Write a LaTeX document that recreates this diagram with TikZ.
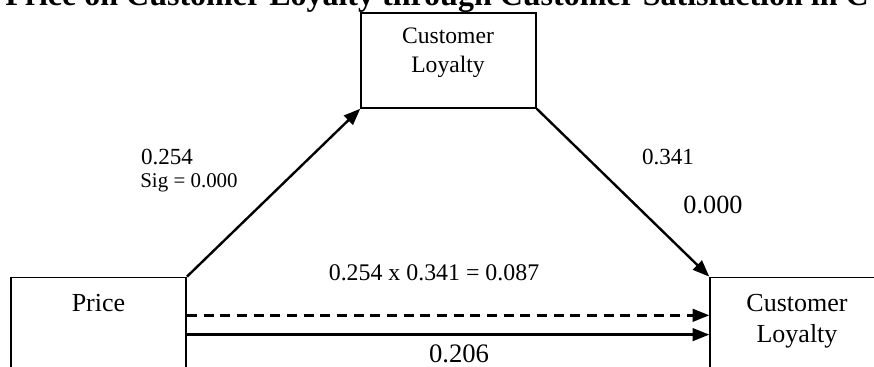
\documentclass[tikz,border=0pt]{standalone}
\usepackage{fontspec}
\setmainfont{Liberation Serif}
\usetikzlibrary{arrows.meta}

\begin{document}
\begin{tikzpicture}
  [x=0.75pt,y=-0.75pt,
   box/.style={draw,line width=1.1pt,minimum width=131.25pt,inner sep=0pt},
   lbl/.style={inner sep=0pt,align=center},
   link/.style={line width=1.8pt,-{Triangle[length=12.5pt,width=9.5pt]}}]
  \useasboundingbox (0,0) rectangle (874,367);
  \clip (0,0) rectangle (874,367);

  \node[lbl,anchor=base,font=\bfseries\fontsize{24}{28}\selectfont] (title) at (437,6)
    {Price on Customer Loyalty through Customer Satisfaction in C};

  \node[box,minimum height=71.25pt] (sat) at (448.5,60.5) {};
  \node[box,minimum height=107pt] (price) at (98.7,348.7) {};
  \node[box,minimum height=107pt] (loyal) at (797.5,348.7) {};

  \node[lbl,font=\fontsize{17.7}{22}\selectfont] (sattxt) at (448,53) {Customer\\Loyalty};
  \node[lbl,font=\fontsize{19.5}{23.5}\selectfont] (pricetxt) at (98.5,303) {Price};
  \node[lbl,font=\fontsize{19.5}{23.5}\selectfont] (loyaltxt) at (797,321) {Customer\\Loyalty};

  \foreach \from/\to in {price.north east/sat.south west,sat.south east/loyal.north west}
    \draw[link] (\from) -- (\to);
  \draw[link,dash pattern=on 7.5pt off 5pt] ([yshift=-29pt]price.north east) -- ([yshift=-29pt]loyal.north west);
  \draw[link] ([yshift=-43.5pt]price.north east) -- ([yshift=-43.5pt]loyal.north west);

  \node[lbl,font=\fontsize{17.3}{20}\selectfont] (a) at (167,157) {0.254};
  \node[lbl,font=\fontsize{15.7}{18}\selectfont] (asig) at (189,183) {Sig = 0.000};
  \node[lbl,font=\fontsize{17.3}{20}\selectfont] (b) at (668,157) {0.341};
  \node[lbl,font=\fontsize{19.7}{23}\selectfont] (bsig) at (713,205) {0.000};
  \node[lbl,font=\fontsize{17.9}{21}\selectfont] (ab) at (434,273) {0.254 x 0.341 = 0.087};
  \node[lbl,font=\fontsize{20}{23}\selectfont] (c) at (459,354) {0.206};

\end{tikzpicture}
\end{document}
